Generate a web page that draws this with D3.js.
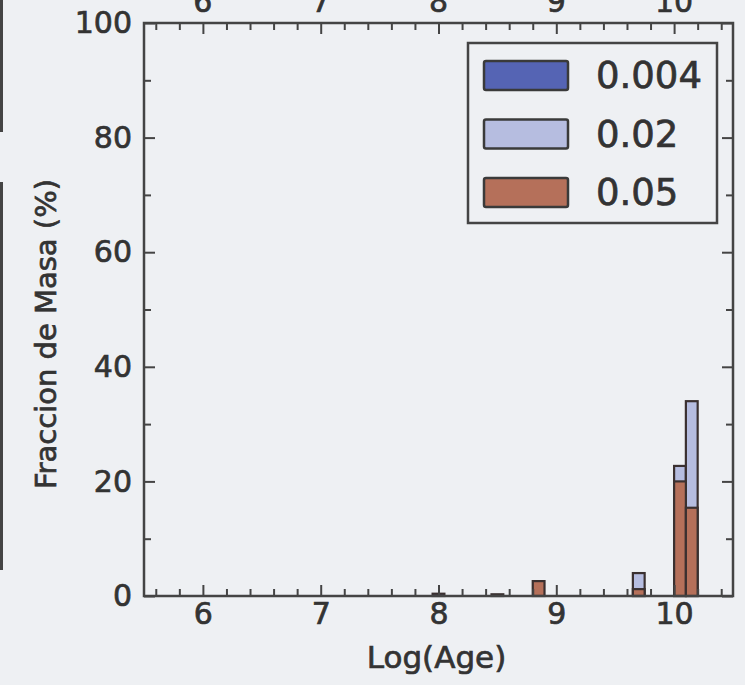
<!DOCTYPE html>
<html>
<head>
<meta charset="utf-8">
<script src="https://cdn.jsdelivr.net/npm/d3@7"></script>
<style>
  html, body { margin: 0; padding: 0; background: #eef0f3; }
  svg { display: block; }
  text { font-family: "DejaVu Sans", sans-serif; fill: #333; stroke: #333; stroke-width: 0.7px; }
</style>
</head>
<body>
<svg id="chart" width="745" height="685"></svg>
<script>
// Mass fraction per Log(Age) bin, one histogram per metallicity
const seriesLabels = ["0.004", "0.02", "0.05"];
const binWidth = 0.1;

const binStarts004 = [7.95, 8.45];
const values004 = [0.4, 0.3];

const binStarts002 = [9.65, 10.0, 10.1];
const values002 = [4.0, 22.7, 34.0];

const binStarts005 = [8.8, 9.65, 10.0, 10.1];
const values005 = [2.6, 1.2, 20.0, 15.4];

const xMajorTicks = [6, 7, 8, 9, 10];
const yMajorTicks = [0, 20, 40, 60, 80, 100];
const yMinorTicks = [10, 30, 50, 70, 90];
const xMinorTicks = d3.range(5.6, 10.45, 0.2).map(v => +v.toFixed(1));

const colors = ["#5564b4", "#b6bde0", "#b5705a"];

const svg = d3.select("#chart");
const plotLeft = 144, plotRight = 733, plotTop = 23, plotBottom = 596;

const x = d3.scaleLinear().domain([5.5, 10.5]).range([plotLeft, plotRight]);
const y = d3.scaleLinear().domain([0, 100]).range([plotBottom, plotTop]);

// edges of the neighbouring panel at the far left
svg.append("line").attr("x1", 1.5).attr("x2", 1.5).attr("y1", 0).attr("y2", 132)
  .attr("stroke", "#444").attr("stroke-width", 3);
svg.append("line").attr("x1", 1.5).attr("x2", 1.5).attr("y1", 182).attr("y2", 570)
  .attr("stroke", "#444").attr("stroke-width", 3);

// tick labels of the panel above, running off the top edge
svg.append("g").selectAll("text").data(xMajorTicks).join("text")
  .attr("x", d => x(d)).attr("y", 12)
  .attr("text-anchor", "middle").attr("font-size", 30)
  .text(d => d);

// histogram bars
const series = [
  { starts: binStarts004, values: values004 },
  { starts: binStarts002, values: values002 },
  { starts: binStarts005, values: values005 }
];
const barsG = svg.append("g");
series.forEach((s, i) => {
  barsG.append("g").selectAll("rect")
    .data(s.starts.map((b, j) => ({ b, v: s.values[j] })))
    .join("rect")
    .attr("x", d => x(d.b))
    .attr("width", d => x(d.b + binWidth) - x(d.b))
    .attr("y", d => y(d.v))
    .attr("height", d => y(0) - y(d.v))
    .attr("fill", colors[i])
    .attr("stroke", "#3a3030")
    .attr("stroke-width", 2.2);
});

// axes: ticks point inward on all four sides
const axisStyle = g => {
  g.select(".domain").remove();
  g.selectAll(".tick line").attr("stroke", "#444").attr("stroke-width", 2);
};
const minorX = xMinorTicks.filter(v => !xMajorTicks.includes(v));

svg.append("g").attr("transform", `translate(0,${plotBottom})`)
  .call(d3.axisBottom(x).tickValues(xMajorTicks).tickSizeInner(-11).tickSizeOuter(0).tickPadding(22).tickFormat(d3.format("d")))
  .call(axisStyle)
  .call(g => g.selectAll("text").attr("font-size", 30).attr("fill", "#333").attr("dy", "0.2em"));
svg.append("g").attr("transform", `translate(0,${plotBottom})`)
  .call(d3.axisBottom(x).tickValues(minorX).tickSize(-7).tickFormat(""))
  .call(axisStyle);

svg.append("g").attr("transform", `translate(0,${plotTop})`)
  .call(d3.axisTop(x).tickValues(xMajorTicks).tickSize(-11).tickFormat(""))
  .call(axisStyle);
svg.append("g").attr("transform", `translate(0,${plotTop})`)
  .call(d3.axisTop(x).tickValues(minorX).tickSize(-7).tickFormat(""))
  .call(axisStyle);

svg.append("g").attr("transform", `translate(${plotLeft},0)`)
  .call(d3.axisLeft(y).tickValues(yMajorTicks).tickSizeInner(-11).tickSizeOuter(0).tickPadding(12).tickFormat(d3.format("d")))
  .call(axisStyle)
  .call(g => g.selectAll("text").attr("font-size", 30).attr("fill", "#333"));
svg.append("g").attr("transform", `translate(${plotLeft},0)`)
  .call(d3.axisLeft(y).tickValues(yMinorTicks).tickSize(-7).tickFormat(""))
  .call(axisStyle);

svg.append("g").attr("transform", `translate(${plotRight},0)`)
  .call(d3.axisRight(y).tickValues(yMajorTicks).tickSize(-11).tickFormat(""))
  .call(axisStyle);
svg.append("g").attr("transform", `translate(${plotRight},0)`)
  .call(d3.axisRight(y).tickValues(yMinorTicks).tickSize(-7).tickFormat(""))
  .call(axisStyle);

// frame
svg.append("rect")
  .attr("x", plotLeft).attr("y", plotTop)
  .attr("width", plotRight - plotLeft).attr("height", plotBottom - plotTop)
  .attr("fill", "none").attr("stroke", "#444").attr("stroke-width", 2.5);

// axis titles
svg.append("text")
  .attr("x", (plotLeft + plotRight) / 2 - 2).attr("y", 668)
  .attr("text-anchor", "middle").attr("font-size", 31)
  .text("Log(Age)");
svg.append("text")
  .attr("transform", "translate(56,334) rotate(-90)")
  .attr("text-anchor", "middle").attr("font-size", 29)
  .text("Fraccion de Masa (%)");

// legend
const legend = svg.append("g");
legend.append("rect")
  .attr("x", 468).attr("y", 43).attr("width", 249).attr("height", 180)
  .attr("fill", "#eef0f3").attr("stroke", "#444").attr("stroke-width", 2.5);
seriesLabels.forEach((lab, i) => {
  const cy = 75 + i * 58.5;
  legend.append("rect")
    .attr("x", 484).attr("y", cy - 14).attr("width", 84).attr("height", 29)
    .attr("rx", 2)
    .attr("fill", colors[i]).attr("stroke", "#3a3a3a").attr("stroke-width", 2.5);
  legend.append("text")
    .attr("x", 596).attr("y", cy + 13)
    .attr("font-size", 37)
    .text(lab);
});
</script>
</body>
</html>
